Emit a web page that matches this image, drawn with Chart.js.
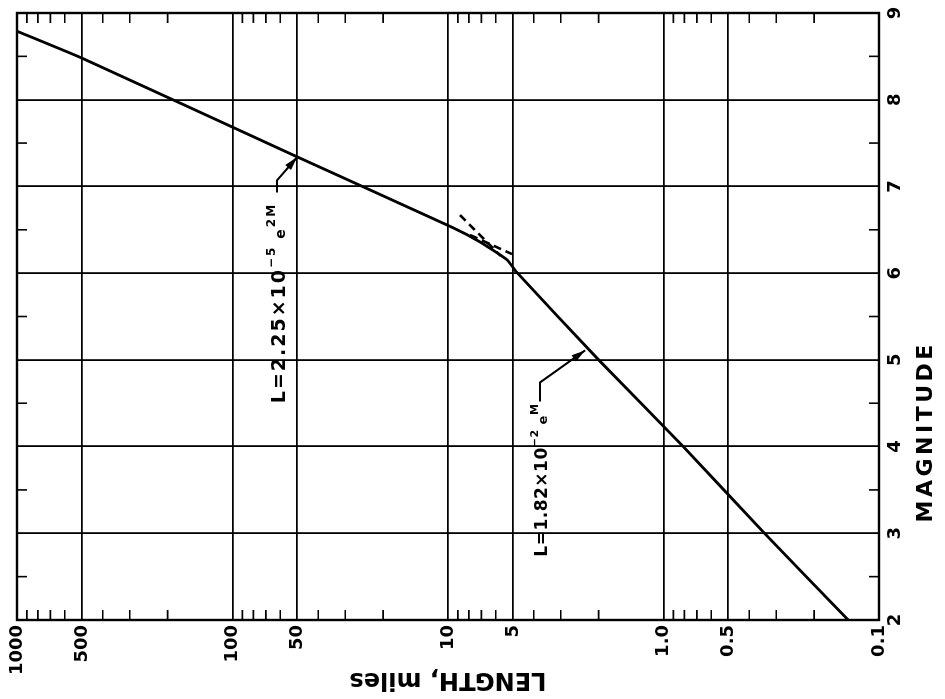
<!DOCTYPE html>
<html><head><meta charset="utf-8">
<script src="https://cdn.jsdelivr.net/npm/chart.js@4.4.1/dist/chart.umd.min.js"></script>
<style>
html,body{margin:0;padding:0;background:#fff;overflow:hidden;width:945px;height:699px}
#wrap{position:absolute;left:0;top:0;width:699px;height:945px;transform-origin:0 0;transform:translate(0px,699px) rotate(-90deg)}
canvas{display:block}
</style></head><body>
<div id="wrap"><canvas id="c" width="699" height="945"></canvas></div>
<script>
// ---- data ----
const magnitudeTicks = [2,3,4,5,6,7,8,9];
const magnitudeMinorTicks = [2.5,3.5,4.5,5.5,6.5,7.5,8.5];
const lengthTicks = [0.1,0.5,1,5,10,50,100,500,1000];
const lengthTickLabels = ['0.1','0.5','1.0','5','10','50','100','500','1000'];
const lengthMinorTicks = [0.2,0.3,0.4,0.6,0.7,0.8,0.9,2,3,4,6,7,8,9,20,30,40,60,70,80,90,200,300,400,600,700,800,900];
const curveMagnitude = [8.79,8.48,7.34,6.53,6.36,6.15,6.01,5.0,4.0,3.0,2.0];
const curveLength    = [1000,500,50,9.6,7.1,5.3,4.8,2.0,0.81,0.34,0.139];
const dashLowerMagnitude = [6.67,6.2];
const dashLowerLength    = [8.8,5.7];
const dashUpperMagnitude = [6.44,6.22];
const dashUpperLength    = [7.9,5.05];
const xTitle = 'MAGNITUDE';
const yTitle = 'LENGTH, miles';

const FONT = '"DejaVu Sans", "Liberation Sans", sans-serif';
const pts = (xs, ys) => xs.map((x,i)=>({x:x, y:ys[i]}));

const annotations = [
  { spacing:'2px', parts:[{text:'L=2.25×10',size:19,dy:0},{text:'−5',size:12,dy:-10},{text:' e',size:14,dy:0},{text:'2M',size:12,dy:-10}],
    at:[4.50,57], leader:[[6.93,62.2],[7.07,62.2],[7.34,50]] },
  { spacing:'0.5px', parts:[{text:'L=1.82×10',size:17,dy:0},{text:'−2',size:11,dy:-9},{text:' e',size:13,dy:0},{text:'M',size:11,dy:-9}],
    at:[2.73,3.47], leader:[[4.52,3.74],[4.74,3.74],[5.11,2.31]] }
];

const decor = {
  id:'decor',
  afterDraw(chart){
    const {ctx, chartArea:a, scales:{x, y}} = chart;
    ctx.save();
    ctx.strokeStyle = '#000';
    // minor ticks, inward
    ctx.lineWidth = 1.6;
    ctx.beginPath();
    for (const v of lengthMinorTicks){
      const py = y.getPixelForValue(v);
      ctx.moveTo(a.left, py); ctx.lineTo(a.left+10, py);
      ctx.moveTo(a.right, py); ctx.lineTo(a.right-10, py);
    }
    for (const m of magnitudeMinorTicks){
      const px = x.getPixelForValue(m);
      ctx.moveTo(px, a.top); ctx.lineTo(px, a.top+10);
      ctx.moveTo(px, a.bottom); ctx.lineTo(px, a.bottom-10);
    }
    ctx.stroke();
    // frame
    ctx.lineWidth = 2.4;
    ctx.strokeRect(a.left, a.top, a.right-a.left, a.bottom-a.top);
    // annotations
    ctx.fillStyle = '#000';
    ctx.textBaseline = 'alphabetic';
    ctx.textAlign = 'left';
    for (const an of annotations){
      ctx.letterSpacing = an.spacing;
      let cx = x.getPixelForValue(an.at[0]);
      const by = y.getPixelForValue(an.at[1]);
      for (const p of an.parts){
        ctx.font = 'bold ' + p.size + 'px ' + FONT;
        ctx.fillText(p.text, cx, by + p.dy);
        cx += ctx.measureText(p.text).width;
      }
      ctx.letterSpacing = '0px';
      const L = an.leader.map(q=>[x.getPixelForValue(q[0]), y.getPixelForValue(q[1])]);
      ctx.lineWidth = 2;
      ctx.beginPath();
      ctx.moveTo(L[0][0], L[0][1]);
      for (let i=1;i<L.length;i++) ctx.lineTo(L[i][0], L[i][1]);
      ctx.stroke();
      const t = L[L.length-1], s = L[L.length-2];
      const ang = Math.atan2(t[1]-s[1], t[0]-s[0]);
      const len = 14, hw = 3.8;
      ctx.beginPath();
      ctx.moveTo(t[0], t[1]);
      ctx.lineTo(t[0]-len*Math.cos(ang)+hw*Math.sin(ang), t[1]-len*Math.sin(ang)-hw*Math.cos(ang));
      ctx.lineTo(t[0]-len*Math.cos(ang)-hw*Math.sin(ang), t[1]-len*Math.sin(ang)+hw*Math.cos(ang));
      ctx.closePath();
      ctx.fill();
    }
    // x-axis title
    ctx.letterSpacing = '3.5px';
    ctx.font = 'bold 22px ' + FONT;
    ctx.textAlign = 'center';
    ctx.textBaseline = 'middle';
    ctx.fillText(xTitle, x.getPixelForValue(4.17), a.bottom + 47);
    ctx.letterSpacing = '0px';
    ctx.restore();
  }
};

new Chart(document.getElementById('c'), {
  type:'scatter',
  data:{ datasets:[
    { data: pts(curveMagnitude, curveLength), showLine:true, borderColor:'#000', borderWidth:2.8, pointRadius:0, tension:0.15, borderJoinStyle:'round' },
    { data: pts(dashLowerMagnitude, dashLowerLength), showLine:true, borderColor:'#000', borderWidth:2.6, borderDash:[8,5], pointRadius:0 },
    { data: pts(dashUpperMagnitude, dashUpperLength), showLine:true, borderColor:'#000', borderWidth:2.6, borderDash:[8,5], pointRadius:0 }
  ]},
  options:{
    responsive:false, animation:false, devicePixelRatio:1,
    layout:{ padding:{ top:17, right:13, left:0, bottom:0 } },
    plugins:{ legend:{display:false}, tooltip:{enabled:false} },
    scales:{
      x:{ type:'linear', position:'bottom', min:2, max:9,
        afterBuildTicks:(s)=>{ s.ticks = magnitudeTicks.map(v=>({value:v})); },
        afterFit:(s)=>{ s.height = 66; },
        grid:{ color:'#000', lineWidth:1.8, drawTicks:false },
        border:{ display:true, color:'#000', width:2 },
        ticks:{ autoSkip:false, maxRotation:0, padding:6, color:'#000', font:{family:FONT, size:18, weight:'bold'}, callback:(v)=>String(v) }
      },
      y:{ type:'logarithmic', position:'left', min:0.1, max:1000,
        afterBuildTicks:(s)=>{ s.ticks = lengthTicks.map(v=>({value:v})); },
        afterFit:(s)=>{ s.width = 79; },
        grid:{ color:'#000', lineWidth:1.8, drawTicks:false },
        border:{ display:true, color:'#000', width:2 },
        ticks:{ autoSkip:false, padding:5, color:'#000', font:{family:FONT, size:18, weight:'bold'},
          callback:(v)=>{ const i = lengthTicks.indexOf(v); return i>=0 ? lengthTickLabels[i] : ''; } },
        title:{ display:true, text:yTitle, color:'#000', font:{family:FONT, size:24, weight:'bold'}, padding:{top:5, bottom:0} }
      }
    }
  },
  plugins:[decor]
});
</script>
</body></html>
